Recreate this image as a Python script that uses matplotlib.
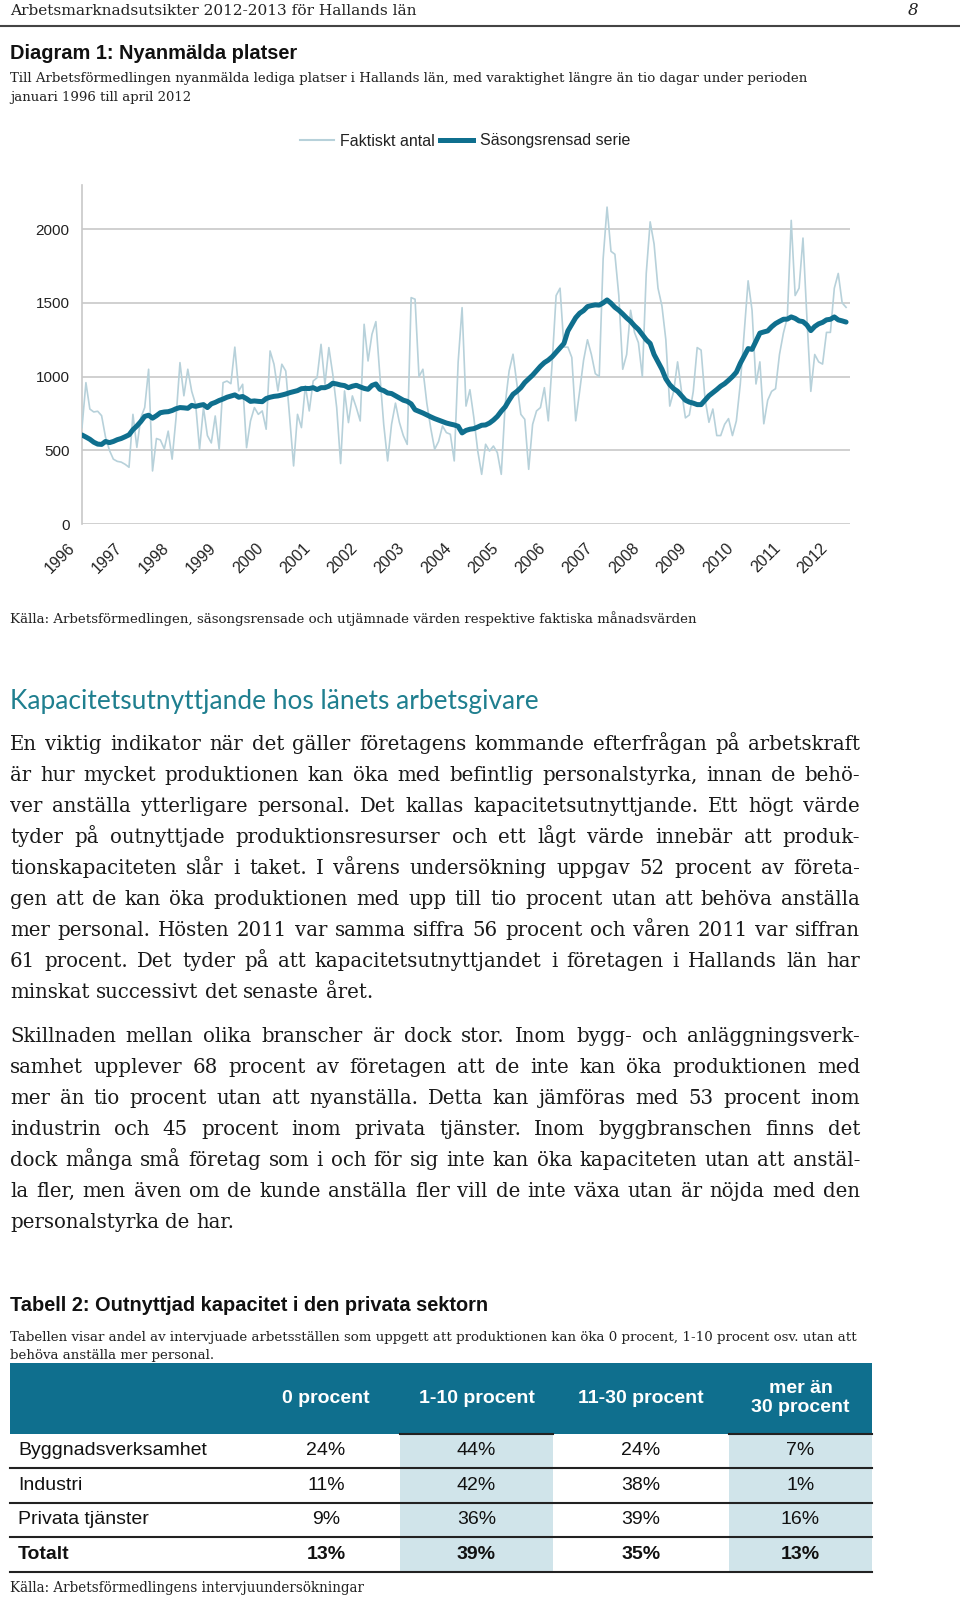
import numpy as np
import matplotlib
matplotlib.use('Agg')
import matplotlib.pyplot as plt
import matplotlib.transforms as mtransforms
from matplotlib.lines import Line2D
from matplotlib.patches import Rectangle

# data
years = list(range(1996, 2013))

# Faktiskt antal, jan 1996 - apr 2012
faktiskt = [
    654, 959, 780, 760, 765, 735, 590, 500, 440, 425, 420, 405,
    385, 744, 520, 720, 790, 1050, 360, 580, 570, 510, 630, 440,
    720, 1095, 870, 1050, 900, 812, 507, 790, 600, 550, 733, 507,
    959, 970, 952, 1200, 903, 948, 518, 699, 790, 744, 767, 643,
    1174, 1084, 903, 1084, 1038, 722, 394, 744, 654, 937, 767, 970,
    993, 1219, 948, 1197, 1016, 790, 410, 903, 688, 869, 790, 699,
    1355, 1106, 1287, 1373, 1016, 676, 428, 676, 820, 690, 600, 540,
    1536, 1525, 1000, 1050, 820, 650, 507, 560, 665, 620, 609, 428,
    1100, 1468, 800, 911, 722, 495, 337, 541, 495, 529, 484, 337,
    812, 1038, 1152, 948, 744, 710, 371, 676, 767, 790, 925, 700,
    1100, 1550, 1600, 1200, 1200, 1130, 700, 900, 1110, 1250, 1150, 1020,
    1000, 1800, 2150, 1850, 1830, 1550, 1050, 1150, 1450, 1300, 1230, 1000,
    1700, 2050, 1900, 1600, 1480, 1250, 800, 900, 1100, 900, 720, 740,
    900, 1197, 1180, 850, 690, 780, 600, 600, 676, 715, 600, 700,
    950, 1300, 1650, 1450, 950, 1100, 680, 840, 900, 918, 1150, 1295,
    1400, 2060, 1550, 1600, 1940, 1400, 900, 1150, 1100, 1085, 1300, 1300,
    1600, 1700, 1500, 1470,
]

# Säsongsrensad serie
sasong = [
    604, 590, 575, 555, 542, 540, 560, 552, 560, 572, 580, 592,
    605, 640, 665, 695, 730, 738, 718, 735, 755, 760, 762, 770,
    782, 790, 788, 785, 805, 798, 805, 810, 790, 815, 825, 838,
    848, 860, 868, 876, 860, 865, 850, 832, 835, 832, 830, 851,
    860, 866, 869, 875, 882, 891, 898, 905, 918, 920, 919, 925,
    912, 925, 925, 935, 955, 950, 943, 939, 925, 935, 941, 930,
    920, 914, 940, 950, 914, 905, 889, 885, 870, 855, 840, 832,
    815, 775, 764, 753, 740, 727, 715, 705, 695, 685, 678, 672,
    663, 618, 635, 643, 647, 658, 670, 672, 685, 705, 730, 765,
    795, 840, 880, 900, 925, 960, 985, 1010, 1040, 1070, 1095, 1112,
    1135, 1165, 1195, 1225, 1310, 1355, 1400, 1430, 1448, 1475, 1482, 1487,
    1485, 1500, 1520, 1498, 1470, 1450, 1425, 1398, 1375, 1345, 1320, 1285,
    1250, 1225, 1150, 1100, 1050, 985, 945, 918, 900, 870, 840, 827,
    820, 810, 810, 840, 870, 891, 912, 935, 952, 975, 1000, 1030,
    1090, 1140, 1190, 1185, 1240, 1295, 1303, 1310, 1338, 1360, 1375, 1389,
    1390, 1405, 1395, 1378, 1373, 1350, 1312, 1340, 1358, 1368, 1385, 1389,
    1405, 1385, 1378, 1370,
]

table_cols = ['0 procent', '1-10 procent', '11-30 procent', 'mer än\n30 procent']
table_rows = ['Byggnadsverksamhet', 'Industri', 'Privata tjänster', 'Totalt']
table_vals = [
    ['24%', '44%', '24%', '7%'],
    ['11%', '42%', '38%', '1%'],
    ['9%', '36%', '39%', '16%'],
    ['13%', '39%', '35%', '13%'],
]

para1 = [
    'En viktig indikator när det gäller företagens kommande efterfrågan på arbetskraft',
    'är hur mycket produktionen kan öka med befintlig personalstyrka, innan de behö-',
    'ver anställa ytterligare personal. Det kallas kapacitetsutnyttjande. Ett högt värde',
    'tyder på outnyttjade produktionsresurser och ett lågt värde innebär att produk-',
    'tionskapaciteten slår i taket. I vårens undersökning uppgav 52 procent av företa-',
    'gen att de kan öka produktionen med upp till tio procent utan att behöva anställa',
    'mer personal. Hösten 2011 var samma siffra 56 procent och våren 2011 var siffran',
    '61 procent. Det tyder på att kapacitetsutnyttjandet i företagen i Hallands län har',
    'minskat successivt det senaste året.',
]
para2 = [
    'Skillnaden mellan olika branscher är dock stor. Inom bygg- och anläggningsverk-',
    'samhet upplever 68 procent av företagen att de inte kan öka produktionen med',
    'mer än tio procent utan att nyanställa. Detta kan jämföras med 53 procent inom',
    'industrin och 45 procent inom privata tjänster. Inom byggbranschen finns det',
    'dock många små företag som i och för sig inte kan öka kapaciteten utan att anstäl-',
    'la fler, men även om de kunde anställa fler vill de inte växa utan är nöjda med den',
    'personalstyrka de har.',
]

# färger / fonter
teal = '#0f6f8e'
light = '#b7d1da'
shade = '#d0e4ea'
serif = 'DejaVu Serif'
sans = 'Liberation Sans'

fig = plt.figure(figsize=(9.6, 15.99), dpi=100)
r = fig.canvas.get_renderer()

# bakgrund i pixelkoordinater
bg = fig.add_axes([0, 0, 1, 1])
bg.set_xlim(0, 960)
bg.set_ylim(1599, 0)
bg.axis('off')


def put(x, y, s, w, **kw):
    # skala fontstorlek så att texten blir w px bred
    t = bg.text(x, y, s, fontsize=10, va='baseline', **kw)
    cur = t.get_window_extent(r).width
    t.set_fontsize(10 * w / cur)
    return t


# sidhuvud
put(10, 15, 'Arbetsmarknadsutsikter 2012-2013 för Hallands län', 410,
    family=serif, color='#222')
bg.text(913, 15, '8', fontsize=12, family=serif, style='italic',
        ha='center', va='baseline', color='#222')
bg.plot([0, 960], [25.5, 25.5], color='#444', lw=1.5)

put(10, 59, 'Diagram 1: Nyanmälda platser', 287, family=sans,
    weight='bold', color='#111')
put(10, 82, 'Till Arbetsförmedlingen nyanmälda lediga platser i Hallands län, '
    'med varaktighet längre än tio dagar under perioden', 803,
    family=serif, color='#222')
put(10, 101, 'januari 1996 till april 2012', 182, family=serif, color='#222')

# diagram
ax = fig.add_axes([82 / 960, 1 - 524 / 1599, (850 - 82) / 960, (524 - 185) / 1599])
x = np.arange(len(faktiskt))
ax.plot(x, faktiskt, color=light, lw=1.2, zorder=3)
ax.plot(x, sasong, color=teal, lw=3.6, zorder=4, solid_capstyle='round')
ax.set_xlim(0, 196)
ax.set_ylim(0, 2300)
ax.set_yticks([0, 500, 1000, 1500, 2000])
ax.grid(axis='y', color='#c8c8c8', lw=1.2)
ax.set_axisbelow(True)
for s in ['top', 'right', 'bottom']:
    ax.spines[s].set_visible(False)
ax.spines['left'].set_color('#c8c8c8')
ax.spines['left'].set_linewidth(1.2)
ax.tick_params(length=0, labelsize=11, labelcolor='#222')
ax.tick_params(axis='y', pad=9)
ax.tick_params(axis='x', pad=0, labelsize=11.5)
for lab in ax.get_yticklabels():
    lab.set_family(sans)
ax.set_xticks(range(0, len(faktiskt), 12))
ax.set_xticklabels([str(y) for y in years], rotation=45, ha='right',
                   va='center', rotation_mode='anchor', family=sans)
off = mtransforms.ScaledTranslation(-9 / 100, -22 / 100, fig.dpi_scale_trans)
for lab in ax.get_xticklabels():
    lab.set_transform(lab.get_transform() + off)
ax.patch.set_alpha(0)

handles = [Line2D([], [], color=light, lw=1.5), Line2D([], [], color=teal, lw=3.6)]
fig.legend(handles, ['Faktiskt antal', 'Säsongsrensad serie'], loc='center',
           bbox_to_anchor=(465 / 960, 1 - 141 / 1599), ncol=2, frameon=False,
           prop={'family': sans, 'size': 11.5}, handlelength=2.1,
           handletextpad=0.4, columnspacing=0.3, labelcolor='#222')

put(10, 623, 'Källa: Arbetsförmedlingen, säsongsrensade och utjämnade värden '
    'respektive faktiska månadsvärden', 692, family=serif, color='#222')

# rubrik + brödtext
put(10, 709, 'Kapacitetsutnyttjande hos länets arbetsgivare', 526,
    family='Lato', color='#1f7f8f')

# fontstorlek så att längsta raden nästan fyller bredden
x0, x1 = 10, 860
widths = []
for ln in para1[:-1] + para2[:-1]:
    t = bg.text(0, 0, ln, fontsize=10, family=serif)
    widths.append(t.get_window_extent(r).width)
    t.remove()
body_size = 10 * (x1 - x0) / max(widths) * 0.985


def para(lines, y0, step):
    for i, ln in enumerate(lines):
        y = y0 + i * step
        words = ln.split(' ')
        ts = [bg.text(0, y, w, fontsize=body_size, family=serif,
                      va='baseline', color='#1a1a1a') for w in words]
        ws = [t.get_window_extent(r).width for t in ts]
        if i < len(lines) - 1:
            gap = (x1 - x0 - sum(ws)) / (len(words) - 1)
        else:
            gap = body_size * 1.389 * 0.32
        xx = x0
        for t, w in zip(ts, ws):
            t.set_x(xx)
            xx += w + gap


para(para1, 750, 31)
para(para2, 1042, 31)

# tabell
put(10, 1311, 'Tabell 2: Outnyttjad kapacitet i den privata sektorn', 480,
    family=sans, weight='bold', color='#111')
put(10, 1341, 'Tabellen visar andel av intervjuade arbetsställen som uppgett att '
    'produktionen kan öka 0 procent, 1-10 procent osv. utan att', 849,
    family=serif, color='#222')
put(10, 1359, 'behöva anställa mer personal.', 206, family=serif, color='#222')

edges = [10, 252, 400, 553, 729, 872]
top, head_bot, row_h = 1363, 1433.5, 34.6
bg.add_patch(Rectangle((edges[0], top), edges[-1] - edges[0], head_bot - top,
                       color=teal, lw=0))
for c in [2, 4]:
    bg.add_patch(Rectangle((edges[c], head_bot), edges[c + 1] - edges[c],
                           row_h * len(table_rows), color=shade, lw=0))
    bg.plot([edges[c], edges[c + 1]], [head_bot, head_bot], color='#222', lw=1.5)
for i in range(1, len(table_rows) + 1):
    yy = head_bot + i * row_h
    bg.plot([edges[0], edges[-1]], [yy, yy], color='#222', lw=1.5)

for j, h in enumerate(table_cols):
    cx = (edges[j + 1] + edges[j + 2]) / 2
    bg.text(cx, (top + head_bot) / 2, h, ha='center', va='center',
            fontsize=14, family=sans, weight='bold', color='white',
            linespacing=1.15)
for i, row in enumerate(table_rows):
    cy = head_bot + (i + 0.5) * row_h
    wt = 'bold' if row == 'Totalt' else 'normal'
    bg.text(18, cy, row, ha='left', va='center', fontsize=14, family=sans,
            weight=wt, color='#111')
    for j, v in enumerate(table_vals[i]):
        cx = (edges[j + 1] + edges[j + 2]) / 2
        bg.text(cx, cy, v, ha='center', va='center', fontsize=14,
                family=sans, weight=wt, color='#111')

put(10, 1592, 'Källa: Arbetsförmedlingens intervjuundersökningar', 356,
    family=serif, color='#222')

fig.savefig('out.png', dpi=100)
